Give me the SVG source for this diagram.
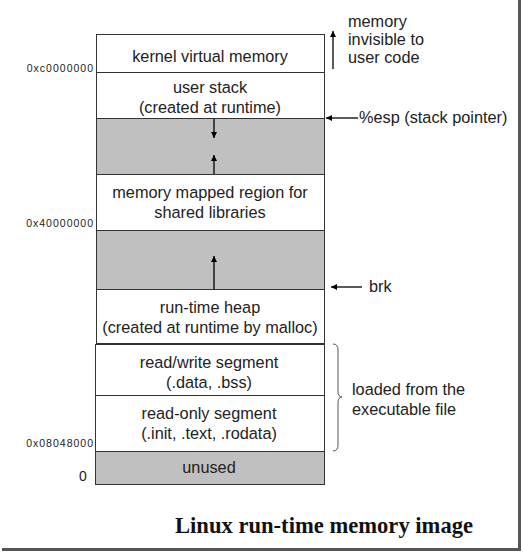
<svg xmlns="http://www.w3.org/2000/svg" width="523" height="553" viewBox="0 0 523 553">
<defs>
<marker id="ah" viewBox="0 0 10 10" refX="10" refY="5" markerWidth="6" markerHeight="6" markerUnits="userSpaceOnUse" orient="auto">
<path d="M0,0 L10,5 L0,10 z" fill="#000"/>
</marker>
<style>
.seg{fill:#fff;stroke:#333;stroke-width:1}
.gap{fill:#c0c0c0;stroke:#333;stroke-width:1}
.t{font-family:"Liberation Sans",Arial,sans-serif;font-size:16.3px;fill:#222;text-anchor:middle}
.r{font-family:"Liberation Sans",Arial,sans-serif;font-size:16.3px;fill:#222}
.addr{font-family:"Liberation Sans",Arial,sans-serif;font-size:10.5px;letter-spacing:1px;fill:#222;text-anchor:end}
.ar{stroke:#000;stroke-width:1.3;fill:none;marker-end:url(#ah)}
.title{font-family:"Liberation Serif","Times New Roman",serif;font-size:22.6px;font-weight:bold;fill:#111}
</style>
</defs>
<rect x="0" y="0" width="523" height="553" fill="#fff"/>
<g id="frame">
<rect x="518" y="0" width="3" height="551" fill="#555"/>
<rect x="2" y="548" width="519" height="3" fill="#555"/>
</g>
<g id="kernel"><rect class="seg" x="96.5" y="34.5" width="228" height="38"/><text class="t" x="210" y="62">kernel virtual memory</text></g>
<g id="stack"><rect class="seg" x="96.5" y="72.5" width="228" height="46"/><text class="t" x="210" y="93">user stack</text><text class="t" x="210" y="113">(created at runtime)</text></g>
<g id="gap1"><rect class="gap" x="96.5" y="118.5" width="228" height="56"/></g>
<g id="mmap"><rect class="seg" x="96.5" y="174.5" width="228" height="56"/><text class="t" x="210" y="198">memory mapped region for</text><text class="t" x="210" y="218">shared libraries</text></g>
<g id="gap2"><rect class="gap" x="96.5" y="230.5" width="228" height="59"/></g>
<g id="heap"><rect class="seg" x="96.5" y="289.5" width="228" height="54"/><text class="t" x="210" y="313">run-time heap</text><text class="t" x="210" y="333">(created at runtime by malloc)</text></g>
<g id="rw"><rect class="seg" x="95.5" y="344.5" width="229" height="51"/><text class="t" x="209" y="368">read/write segment</text><text class="t" x="209" y="388">(.data, .bss)</text></g>
<g id="ro"><rect class="seg" x="95.5" y="395.5" width="229" height="56"/><text class="t" x="209" y="419">read-only segment</text><text class="t" x="209" y="439">(.init, .text, .rodata)</text></g>
<g id="unused"><rect class="gap" x="95.5" y="451.5" width="229" height="33"/><text class="t" x="209" y="473">unused</text></g>
<g id="addresses">
<text class="addr" x="94" y="72">0xc0000000</text>
<text class="addr" x="94" y="227">0x40000000</text>
<text class="addr" x="94" y="447">0x08048000</text>
<text class="r" x="79" y="481" style="font-size:14px">0</text>
</g>
<g id="connectors">
<line class="ar" x1="214" y1="119" x2="214" y2="138"/>
<line class="ar" x1="214" y1="174" x2="214" y2="155"/>
<line class="ar" x1="214" y1="289" x2="214" y2="256"/>
<line class="ar" x1="333" y1="69" x2="333" y2="31"/>
<line class="ar" x1="358" y1="118" x2="326" y2="118"/>
<line class="ar" x1="362" y1="287" x2="331" y2="287"/>
<path d="M333,344 Q338,344 338,350 L338,391 Q338,397 342,397 Q338,397 338,403 L338,445 Q338,451 333,451" fill="none" stroke="#555" stroke-width="1"/>
</g>
<g id="labels">
<text class="r" x="348" y="27">memory</text>
<text class="r" x="348" y="45">invisible to</text>
<text class="r" x="348" y="63">user code</text>
<text class="r" x="359" y="123">%esp (stack pointer)</text>
<text class="r" x="369" y="292">brk</text>
<text class="r" x="352" y="395">loaded from the</text>
<text class="r" x="352" y="415">executable file</text>
<text class="title" x="175" y="533">Linux run-time memory image</text>
</g>
</svg>
